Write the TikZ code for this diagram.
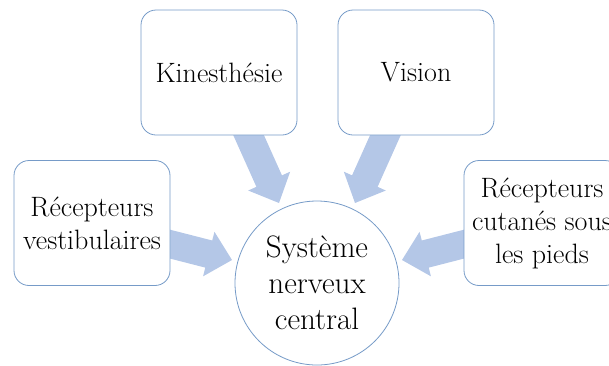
\documentclass[tikz,border=0pt]{standalone}
\usetikzlibrary{calc}
\definecolor{arwblue}{RGB}{180,199,231}
\definecolor{edgeblue}{RGB}{118,155,200}
\tikzset{
  sbox/.style={draw=edgeblue, line width=0.8pt, fill=white, rounded corners=15pt,
    minimum width=156pt, minimum height=125pt, align=center, inner sep=0pt,
    font=\fontsize{28}{33}\selectfont},
  hub/.style={circle, draw=edgeblue, line width=0.8pt, fill=white,
    minimum size=164pt, inner sep=0pt, align=center,
    font=\fontsize{31}{36}\selectfont},
  arw/.style={fill=arwblue},
}
\newcommand\blkarrow[2]{%
  \path ($(#2)!24pt!(#1)$) coordinate (hb);
  \fill[arw] ($(#1)!14pt!90:(#2)$) -- ($(hb)!14pt!-90:(#1)$) -- ($(hb)!23pt!-90:(#1)$)
    -- (#2) -- ($(hb)!23pt!90:(#1)$) -- ($(hb)!14pt!90:(#1)$)
    -- ($(#1)!14pt!-90:(#2)$) -- cycle;
}
\begin{document}
\begin{tikzpicture}[x=1pt,y=-1pt]
  \clip (0,0) rectangle (609,365);
  \useasboundingbox (0,0) rectangle (609,365);
  % arrow end points
  \coordinate (kA) at (240,116);
  \coordinate (kB) at (279,203);
  \coordinate (vA) at (394,116);
  \coordinate (vB) at (355,203);
  \coordinate (lA) at (150,239);
  \coordinate (lB) at (232,260);
  \coordinate (rA) at (484,239);
  \coordinate (rB) at (402,260);
  \blkarrow{kA}{kB}
  \blkarrow{vA}{vB}
  \blkarrow{lA}{lB}
  \blkarrow{rA}{rB}
  % boxes
  \node[sbox] (kin) at (219,72.5) {Kinesthésie};
  \node[sbox] (vis) at (416,72.5) {Vision};
  \node[sbox] (vest) at (92,223) {Récepteurs\\vestibulaires};
  \node[sbox] (cut) at (542,223) {Récepteurs\\cutanés sous\\les pieds};
  \node[hub] (snc) at (317,283) {Système\\nerveux\\central};
\end{tikzpicture}
\end{document}
